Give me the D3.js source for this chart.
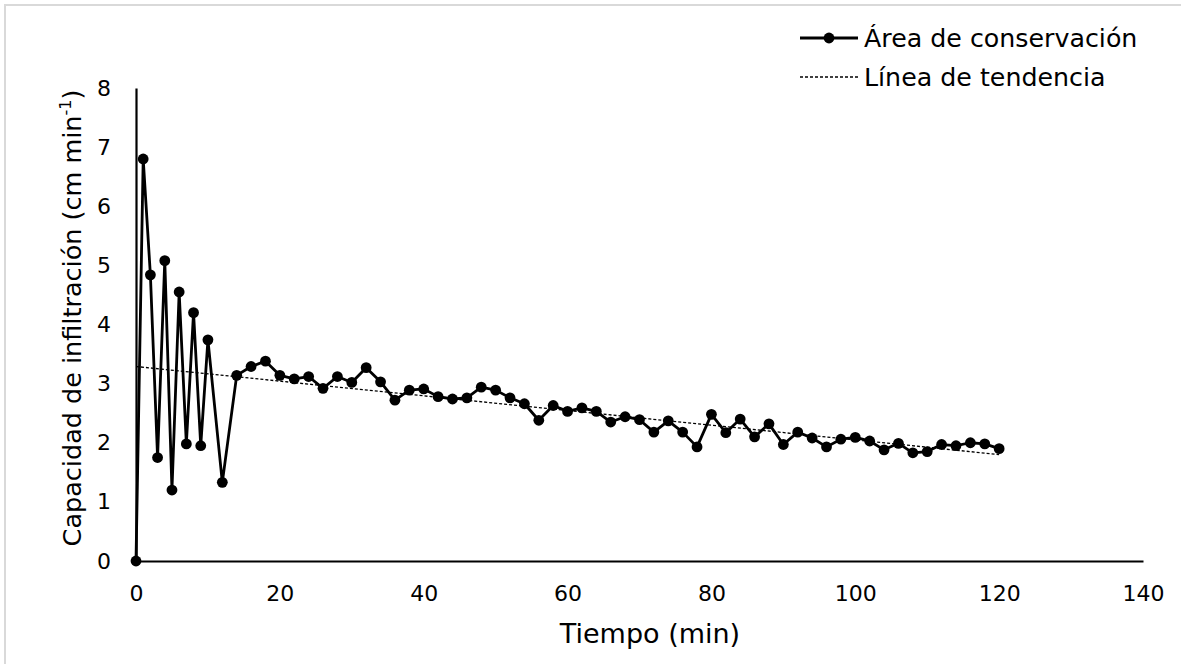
<!DOCTYPE html>
<html>
<head>
<meta charset="utf-8">
<script src="https://cdn.jsdelivr.net/npm/d3@7"></script>
<style>
  html, body { margin: 0; padding: 0; background: #fff; }
  svg { display: block; font-family: "DejaVu Sans", Verdana, sans-serif; }
</style>
</head>
<body>
<svg id="chart" width="1181" height="664"></svg>
<script>
// Data
const tiempo = [0,1,2,3,4,5,6,7,8,9,10,12,14,16,18,20,22,24,26,28,30,32,34,36,38,40,42,44,46,48,50,52,54,56,58,60,62,64,66,68,70,72,74,76,78,80,82,84,86,88,90,92,94,96,98,100,102,104,106,108,110,112,114,116,118,120];
const capacidad = [0,6.80,4.84,1.75,5.08,1.20,4.55,1.98,4.20,1.95,3.74,1.33,3.14,3.29,3.38,3.14,3.08,3.12,2.92,3.12,3.02,3.27,3.03,2.72,2.89,2.91,2.78,2.74,2.76,2.94,2.89,2.76,2.66,2.38,2.63,2.53,2.59,2.53,2.35,2.44,2.39,2.18,2.37,2.18,1.93,2.48,2.17,2.40,2.10,2.32,1.97,2.18,2.08,1.93,2.06,2.09,2.03,1.88,1.99,1.83,1.85,1.97,1.95,2.00,1.98,1.90];
const tendenciaX = [0,120];
const tendenciaY = [3.29,1.80];
const xTicks = [0,20,40,60,80,100,120,140];
const yTicks = [0,1,2,3,4,5,6,7,8];
const xTitle = "Tiempo (min)";
const legendLabels = ["Área de conservación","Línea de tendencia"];

const svg = d3.select("#chart");

// outer border
svg.append("rect").attr("x",5).attr("y",5).attr("width",1190).attr("height",680)
  .attr("fill","none").attr("stroke","#d9d9d9").attr("stroke-width",2);

const x = d3.scaleLinear().domain([0,140]).range([136,1143]);
const y = d3.scaleLinear().domain([0,8]).range([561,88]);

// axes
const xAxis = svg.append("g").attr("transform",`translate(0,${y(0)})`)
  .call(d3.axisBottom(x).tickValues(xTicks).tickSize(0).tickPadding(24));
xAxis.select(".domain").attr("stroke","#000").attr("stroke-width",2.2);
xAxis.selectAll("text").attr("font-size",22).attr("fill","#000")
  .attr("font-family","DejaVu Sans, Verdana, sans-serif");

const yAxis = svg.append("g").attr("transform",`translate(${x(0)},0)`)
  .call(d3.axisLeft(y).tickValues(yTicks).tickSize(0).tickPadding(25));
yAxis.select(".domain").attr("stroke","#000").attr("stroke-width",2.2);
yAxis.selectAll("text").attr("font-size",22).attr("fill","#000")
  .attr("font-family","DejaVu Sans, Verdana, sans-serif");

// data
const pts = tiempo.map((t,i)=>({t, v: capacidad[i]}));
const trend = tendenciaX.map((t,i)=>({t, v: tendenciaY[i]}));

const line = d3.line().x(d=>x(d.t)).y(d=>y(d.v));

svg.append("path").datum(pts).attr("d",line)
  .attr("fill","none").attr("stroke","#000").attr("stroke-width",2.8)
  .attr("stroke-linejoin","round");

svg.append("g").selectAll("circle").data(pts).join("circle")
  .attr("cx",d=>x(d.t)).attr("cy",d=>y(d.v)).attr("r",5.4).attr("fill","#000");

svg.append("path").datum(trend).attr("d",line)
  .attr("fill","none").attr("stroke","#000").attr("stroke-width",1.3)
  .attr("stroke-dasharray","3,2");

// axis titles
svg.append("text").attr("x",650).attr("y",643).attr("text-anchor","middle")
  .attr("font-size",27).attr("fill","#000").text(xTitle);

const yt = svg.append("text").attr("transform",`translate(81,318) rotate(-90)`)
  .attr("text-anchor","middle").attr("font-size",25.5).attr("fill","#000");
yt.append("tspan").text("Capacidad de infiltración (cm min");
yt.append("tspan").attr("font-size",16).attr("dy",-10).text("-1");
yt.append("tspan").attr("dy",10).text(")");

// legend
const lg = svg.append("g");
lg.append("line").attr("x1",800).attr("x2",858).attr("y1",38).attr("y2",38)
  .attr("stroke","#000").attr("stroke-width",2.8);
lg.append("circle").attr("cx",829).attr("cy",38).attr("r",5.4).attr("fill","#000");
lg.append("text").attr("x",864).attr("y",47).attr("font-size",25.3).attr("fill","#000").text(legendLabels[0]);
lg.append("line").attr("x1",800).attr("x2",858).attr("y1",77).attr("y2",77)
  .attr("stroke","#000").attr("stroke-width",1.3).attr("stroke-dasharray","3,2");
lg.append("text").attr("x",864).attr("y",86).attr("font-size",25.3).attr("fill","#000").text(legendLabels[1]);
</script>
</body>
</html>
